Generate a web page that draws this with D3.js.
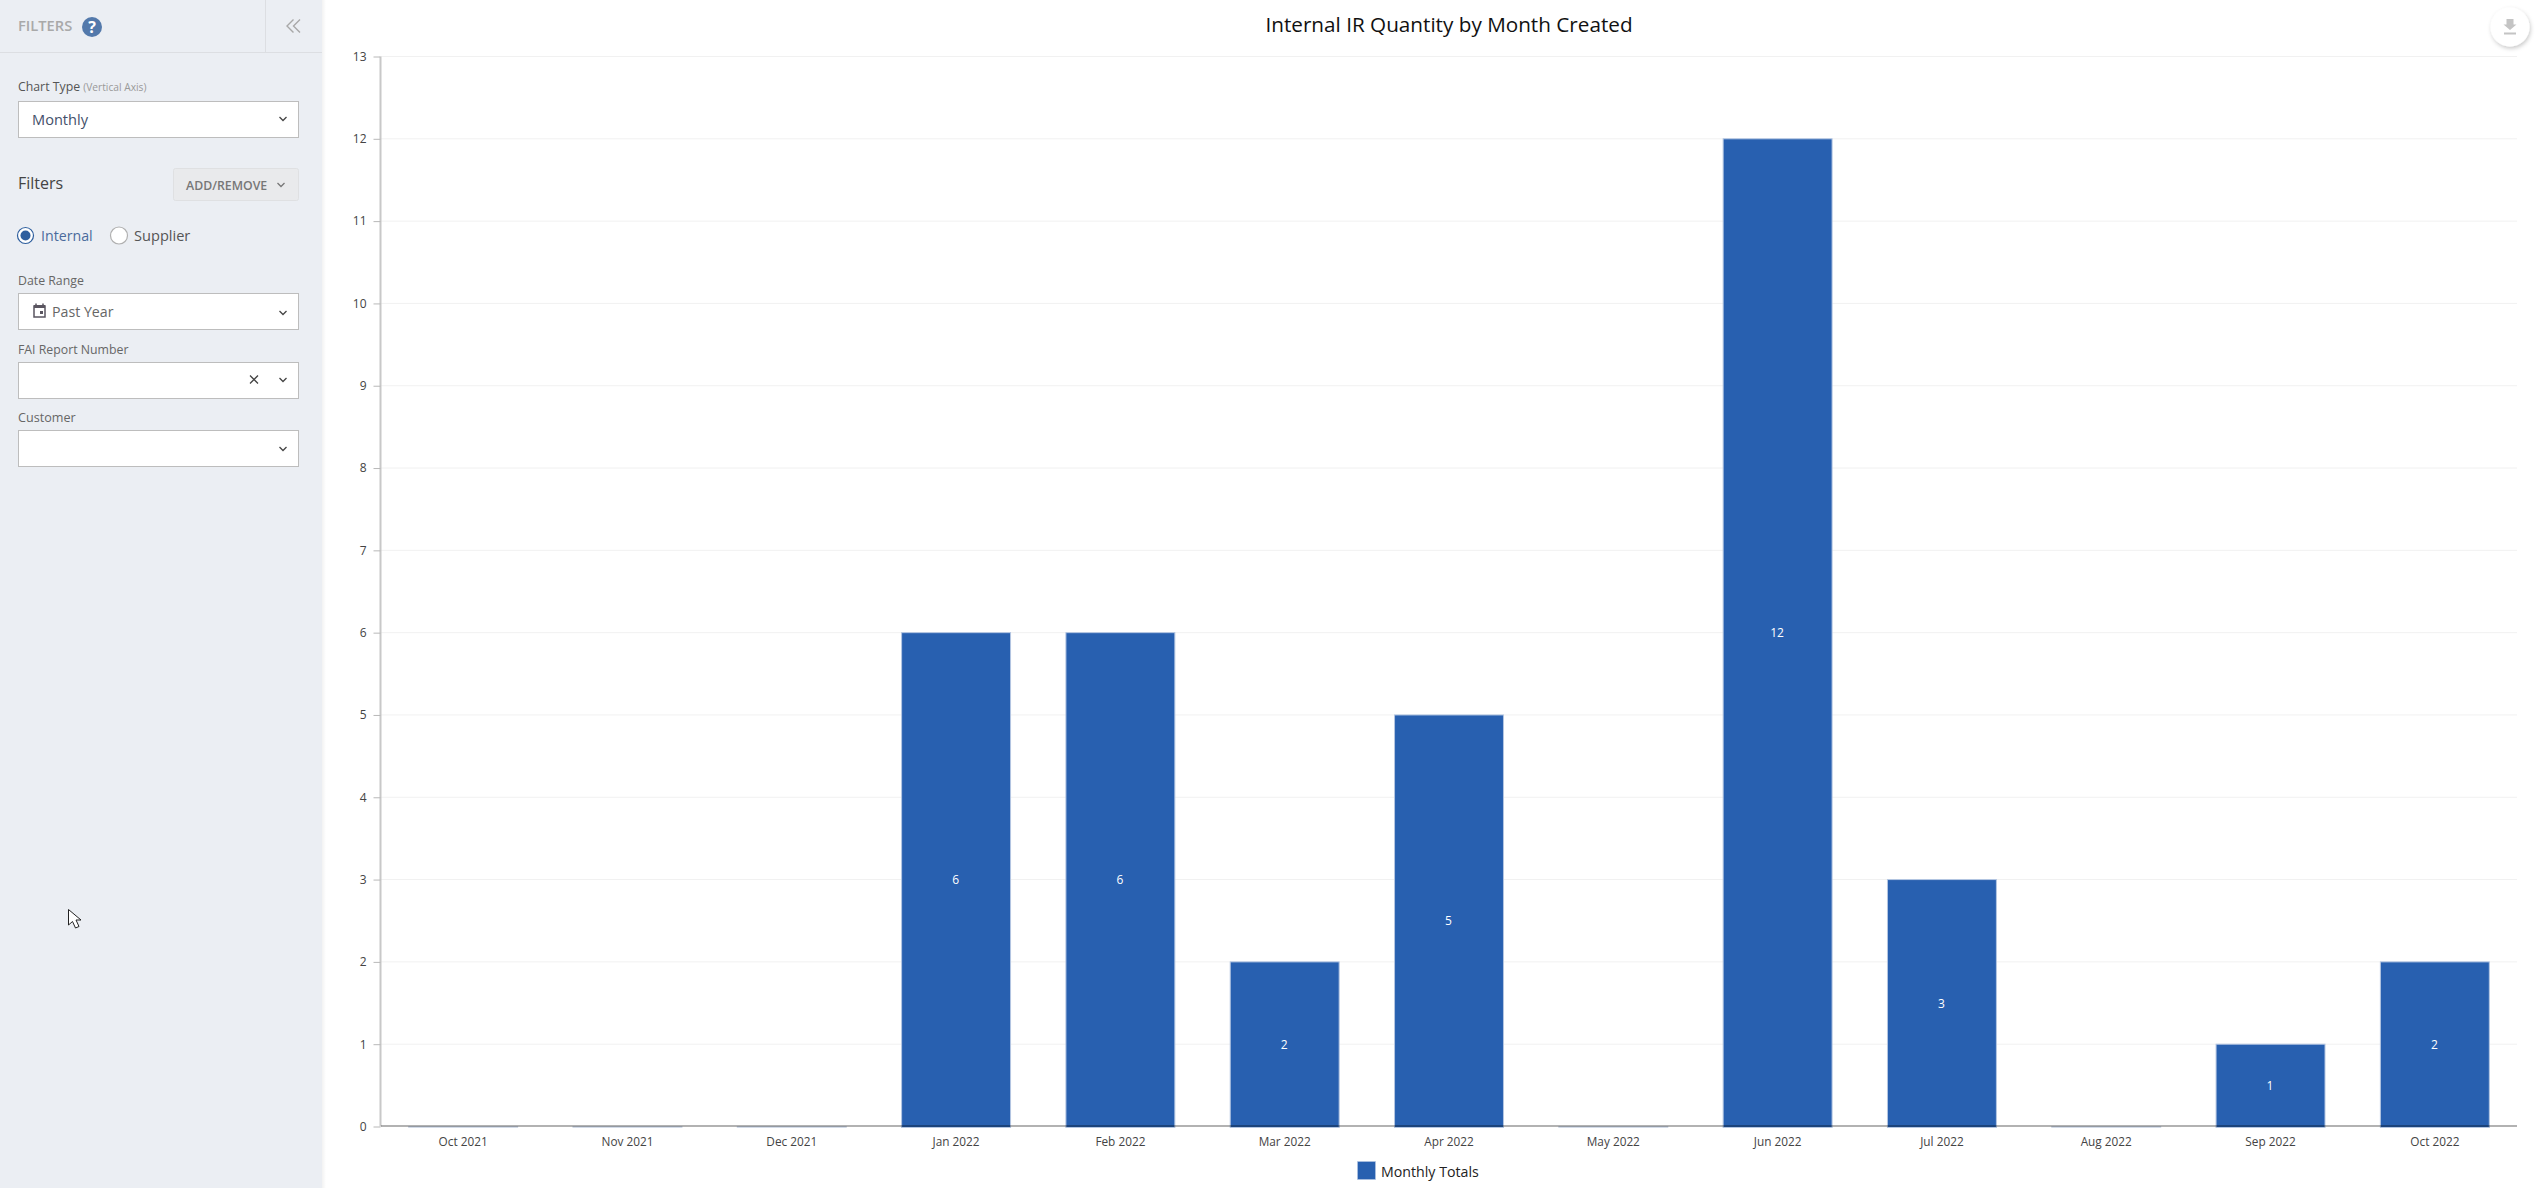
<!DOCTYPE html>
<html>
<head>
<meta charset="utf-8">
<title>Internal IR Quantity by Month Created</title>
<script src="https://cdn.jsdelivr.net/npm/d3@7"></script>
<style>
  html, body { margin: 0; padding: 0; background: #fff; overflow: hidden; }
  svg { display: block; font-family: "Open Sans", "Noto Sans", sans-serif; }
</style>
</head>
<body>
<svg id="page" width="2543" height="1188"></svg>
<script>
// Monthly totals
const months = ["Oct 2021","Nov 2021","Dec 2021","Jan 2022","Feb 2022","Mar 2022","Apr 2022","May 2022","Jun 2022","Jul 2022","Aug 2022","Sep 2022","Oct 2022"];
const totals = [0,0,0,6,6,2,5,0,12,3,0,1,2];
const seriesName = "Monthly Totals";
const chartTitle = "Internal IR Quantity by Month Created";
const yMax = 13;

const svg = d3.select("#page");
const defs = svg.append("defs");
const shadow = defs.append("linearGradient").attr("id", "sideShadow");
shadow.append("stop").attr("offset", 0).attr("stop-color", "#000").attr("stop-opacity", 0.05);
shadow.append("stop").attr("offset", 1).attr("stop-color", "#000").attr("stop-opacity", 0);
const btnShadow = defs.append("filter").attr("id", "btnShadow").attr("x", "-40%").attr("y", "-40%").attr("width", "180%").attr("height", "180%");
btnShadow.append("feDropShadow").attr("dx", 1).attr("dy", 2).attr("stdDeviation", 2).attr("flood-color", "#000").attr("flood-opacity", 0.22);

/* ---------- chart ---------- */
const plot = { left: 381, right: 2517, top: 56, bottom: 1126 };
const x = d3.scaleBand().domain(months).range([plot.left, plot.right]).paddingInner(0.337).paddingOuter(0.1685);
const y = d3.scaleLinear().domain([0, yMax]).range([plot.bottom, plot.top]);
const chart = svg.append("g");

// Horizontal grid lines
chart.append("g").selectAll("line").data(d3.range(1, yMax + 1)).join("line")
  .attr("x1", plot.left).attr("x2", plot.right)
  .attr("y1", d => y(d) + 0.5).attr("y2", d => y(d) + 0.5)
  .attr("stroke", "#f1f1f1").attr("stroke-width", 1);

// Bars; a zero month collapses to its pale outline just under the baseline
chart.append("g").selectAll("rect").data(months.map((m, i) => ({ m, v: totals[i] }))).join("rect")
  .attr("x", d => x(d.m)).attr("width", x.bandwidth())
  .attr("y", d => y(d.v) + 0.5)
  .attr("height", d => y(0) - y(d.v) + 1)
  .attr("fill", d => d.v ? "#2860b0" : "none")
  .attr("stroke", d => d.v ? "#b4c6e2" : "#d3dbe8").attr("stroke-width", 1);

// Value labels centred within each bar
chart.append("g").selectAll("text").data(months.map((m, i) => ({ m, v: totals[i] })).filter(d => d.v)).join("text")
  .attr("x", d => x(d.m) + x.bandwidth() / 2 - 0.5)
  .attr("y", d => (y(d.v) + y(0)) / 2 + 5)
  .attr("text-anchor", "middle").attr("font-size", 12).attr("fill", "#fff")
  .text(d => d.v);

// Left axis
const yAxis = chart.append("g").attr("transform", `translate(${plot.left - 0.5},0.5)`)
  .call(d3.axisLeft(y).tickValues(d3.range(0, yMax + 1)).tickSize(7).tickPadding(7).tickFormat(d3.format("d")));
yAxis.select(".domain").attr("stroke", "#c8c8c8").attr("stroke-width", 2).attr("d", `M0,${plot.top}V${plot.bottom}`);
yAxis.selectAll(".tick line").attr("stroke", "#b8b8b8");
yAxis.selectAll(".tick text").attr("font-size", 12).attr("font-family", "'Open Sans', sans-serif").attr("fill", "#444");

// Bottom axis
const xAxis = chart.append("g").attr("transform", `translate(0,${plot.bottom})`)
  .call(d3.axisBottom(x).tickSize(0).tickPadding(12));
xAxis.select(".domain").attr("stroke", "#000").attr("stroke-opacity", 0.3).attr("stroke-width", 2).attr("d", `M${plot.left},0H${plot.right}`);
xAxis.selectAll(".tick text").attr("font-size", 11.8).attr("font-family", "'Open Sans', sans-serif").attr("fill", "#444");

// Title
chart.append("text").attr("x", 1449).attr("y", 31.5).attr("text-anchor", "middle")
  .attr("font-size", 20.7).attr("fill", "#111").text(chartTitle);

// Legend
chart.append("rect").attr("x", 1357.5).attr("y", 1161.5).attr("width", 18).attr("height", 18)
  .attr("fill", "#2860b0").attr("stroke", "#b4c6e2").attr("stroke-opacity", 0.6);
chart.append("text").attr("x", 1381).attr("y", 1176.5).attr("font-size", 14.2).attr("fill", "#222").text(seriesName);

// Download button
const dl = chart.append("g").attr("transform", "translate(2510,27)");
dl.append("circle").attr("r", 19.5).attr("fill", "#fff").attr("filter", "url(#btnShadow)");
dl.append("path").attr("d", "M-3.5,-8H3.5V-2.5H6.5L0,3L-6.5,-2.5H-3.5ZM-6,5.5H6V7.5H-6Z").attr("fill", "#c4c4c4");

/* ---------- filter panel ---------- */
const side = svg.append("g");
side.append("rect").attr("x", 322).attr("width", 4).attr("height", 1188).attr("fill", "url(#sideShadow)");
side.append("rect").attr("width", 322).attr("height", 1188).attr("fill", "#ebeef3");
side.append("line").attr("x1", 0).attr("x2", 322).attr("y1", 52.5).attr("y2", 52.5).attr("stroke", "#dcdee2");
side.append("line").attr("x1", 265.5).attr("x2", 265.5).attr("y1", 0).attr("y2", 52).attr("stroke", "#dcdee2");

const label = (t, lx, ly, size, fill, weight) => side.append("text").attr("x", lx).attr("y", ly)
  .attr("font-size", size).attr("fill", fill).attr("font-weight", weight || 400).text(t);

label("FILTERS", 18, 31, 14.7, "#a9a9a9", 600);
side.append("circle").attr("cx", 92).attr("cy", 27).attr("r", 10).attr("fill", "#5379ab");
side.append("text").attr("x", 92).attr("y", 33).attr("text-anchor", "middle").attr("font-size", 16).attr("font-weight", 700).attr("fill", "#fff").text("?");
side.append("path").attr("d", "M293.5,19.5L287,26L293.5,32.5M300,19.5L293.5,26L300,32.5").attr("fill", "none").attr("stroke", "#a8a8a8").attr("stroke-width", 1.4);

const chevron = (cx, cy, color) => side.append("path")
  .attr("d", `M${cx - 3.5},${cy - 2}L${cx},${cy + 1.5}L${cx + 3.5},${cy - 2}`)
  .attr("fill", "none").attr("stroke", color || "#444").attr("stroke-width", 1.3);
const selectBox = (by) => side.append("rect").attr("x", 18.5).attr("y", by + 0.5).attr("width", 280).attr("height", 36)
  .attr("fill", "#fff").attr("stroke", "#bdbdbd");

side.append("text").attr("x", 18).attr("y", 91).attr("font-size", 12.3).attr("fill", "#555")
  .text("Chart Type ").append("tspan").attr("font-size", 10.2).attr("fill", "#999").text("(Vertical Axis)");
selectBox(101);
label("Monthly", 32, 125, 14.6, "#44506a");
chevron(283, 119);

label("Filters", 18, 189, 16, "#444");
side.append("rect").attr("x", 173.5).attr("y", 168.5).attr("width", 125).attr("height", 32).attr("rx", 2)
  .attr("fill", "#e9eaec").attr("stroke", "#dfe0e2");
label("ADD/REMOVE", 186, 190, 12.3, "#777", 600);
chevron(281, 185, "#777");

side.append("circle").attr("cx", 25.5).attr("cy", 235.5).attr("r", 8).attr("fill", "#fff").attr("stroke", "#2f5f9e").attr("stroke-width", 1.2);
side.append("circle").attr("cx", 25.5).attr("cy", 235.5).attr("r", 5).attr("fill", "#2f5f9e");
label("Internal", 41, 241, 14.2, "#4a6a9c");
side.append("circle").attr("cx", 119).attr("cy", 235.5).attr("r", 8.5).attr("fill", "#fff").attr("stroke", "#b0b0b0").attr("stroke-width", 1.2);
label("Supplier", 134, 241, 14.6, "#555");

label("Date Range", 18, 285, 12.3, "#666");
selectBox(293);
side.append("path").attr("d", "M34,306h11v11h-11ZM36,303.5v2.5M43,303.5v2.5").attr("fill", "none").attr("stroke", "#5a5560").attr("stroke-width", 1.5);
side.append("rect").attr("x", 34).attr("y", 305).attr("width", 11).attr("height", 3).attr("fill", "#5a5560");
side.append("rect").attr("x", 40).attr("y", 311).attr("width", 3).attr("height", 3).attr("fill", "#5a5560");
label("Past Year", 52, 317, 14.2, "#666");
chevron(283, 313);

label("FAI Report Number", 18, 354, 12.3, "#666");
selectBox(362);
side.append("path").attr("d", "M250,375.5L258,383.5M258,375.5L250,383.5").attr("stroke", "#444").attr("stroke-width", 1.3);
chevron(283, 380);

label("Customer", 18, 422, 12.6, "#666");
selectBox(430);
chevron(283, 449);

// Mouse pointer
svg.append("path").attr("d", "M68.5,909.5V925L72.5,921.5L75.5,928L79,926.5L76,920H81Z")
  .attr("fill", "#fff").attr("stroke", "#222").attr("stroke-width", 1);
</script>
</body>
</html>
